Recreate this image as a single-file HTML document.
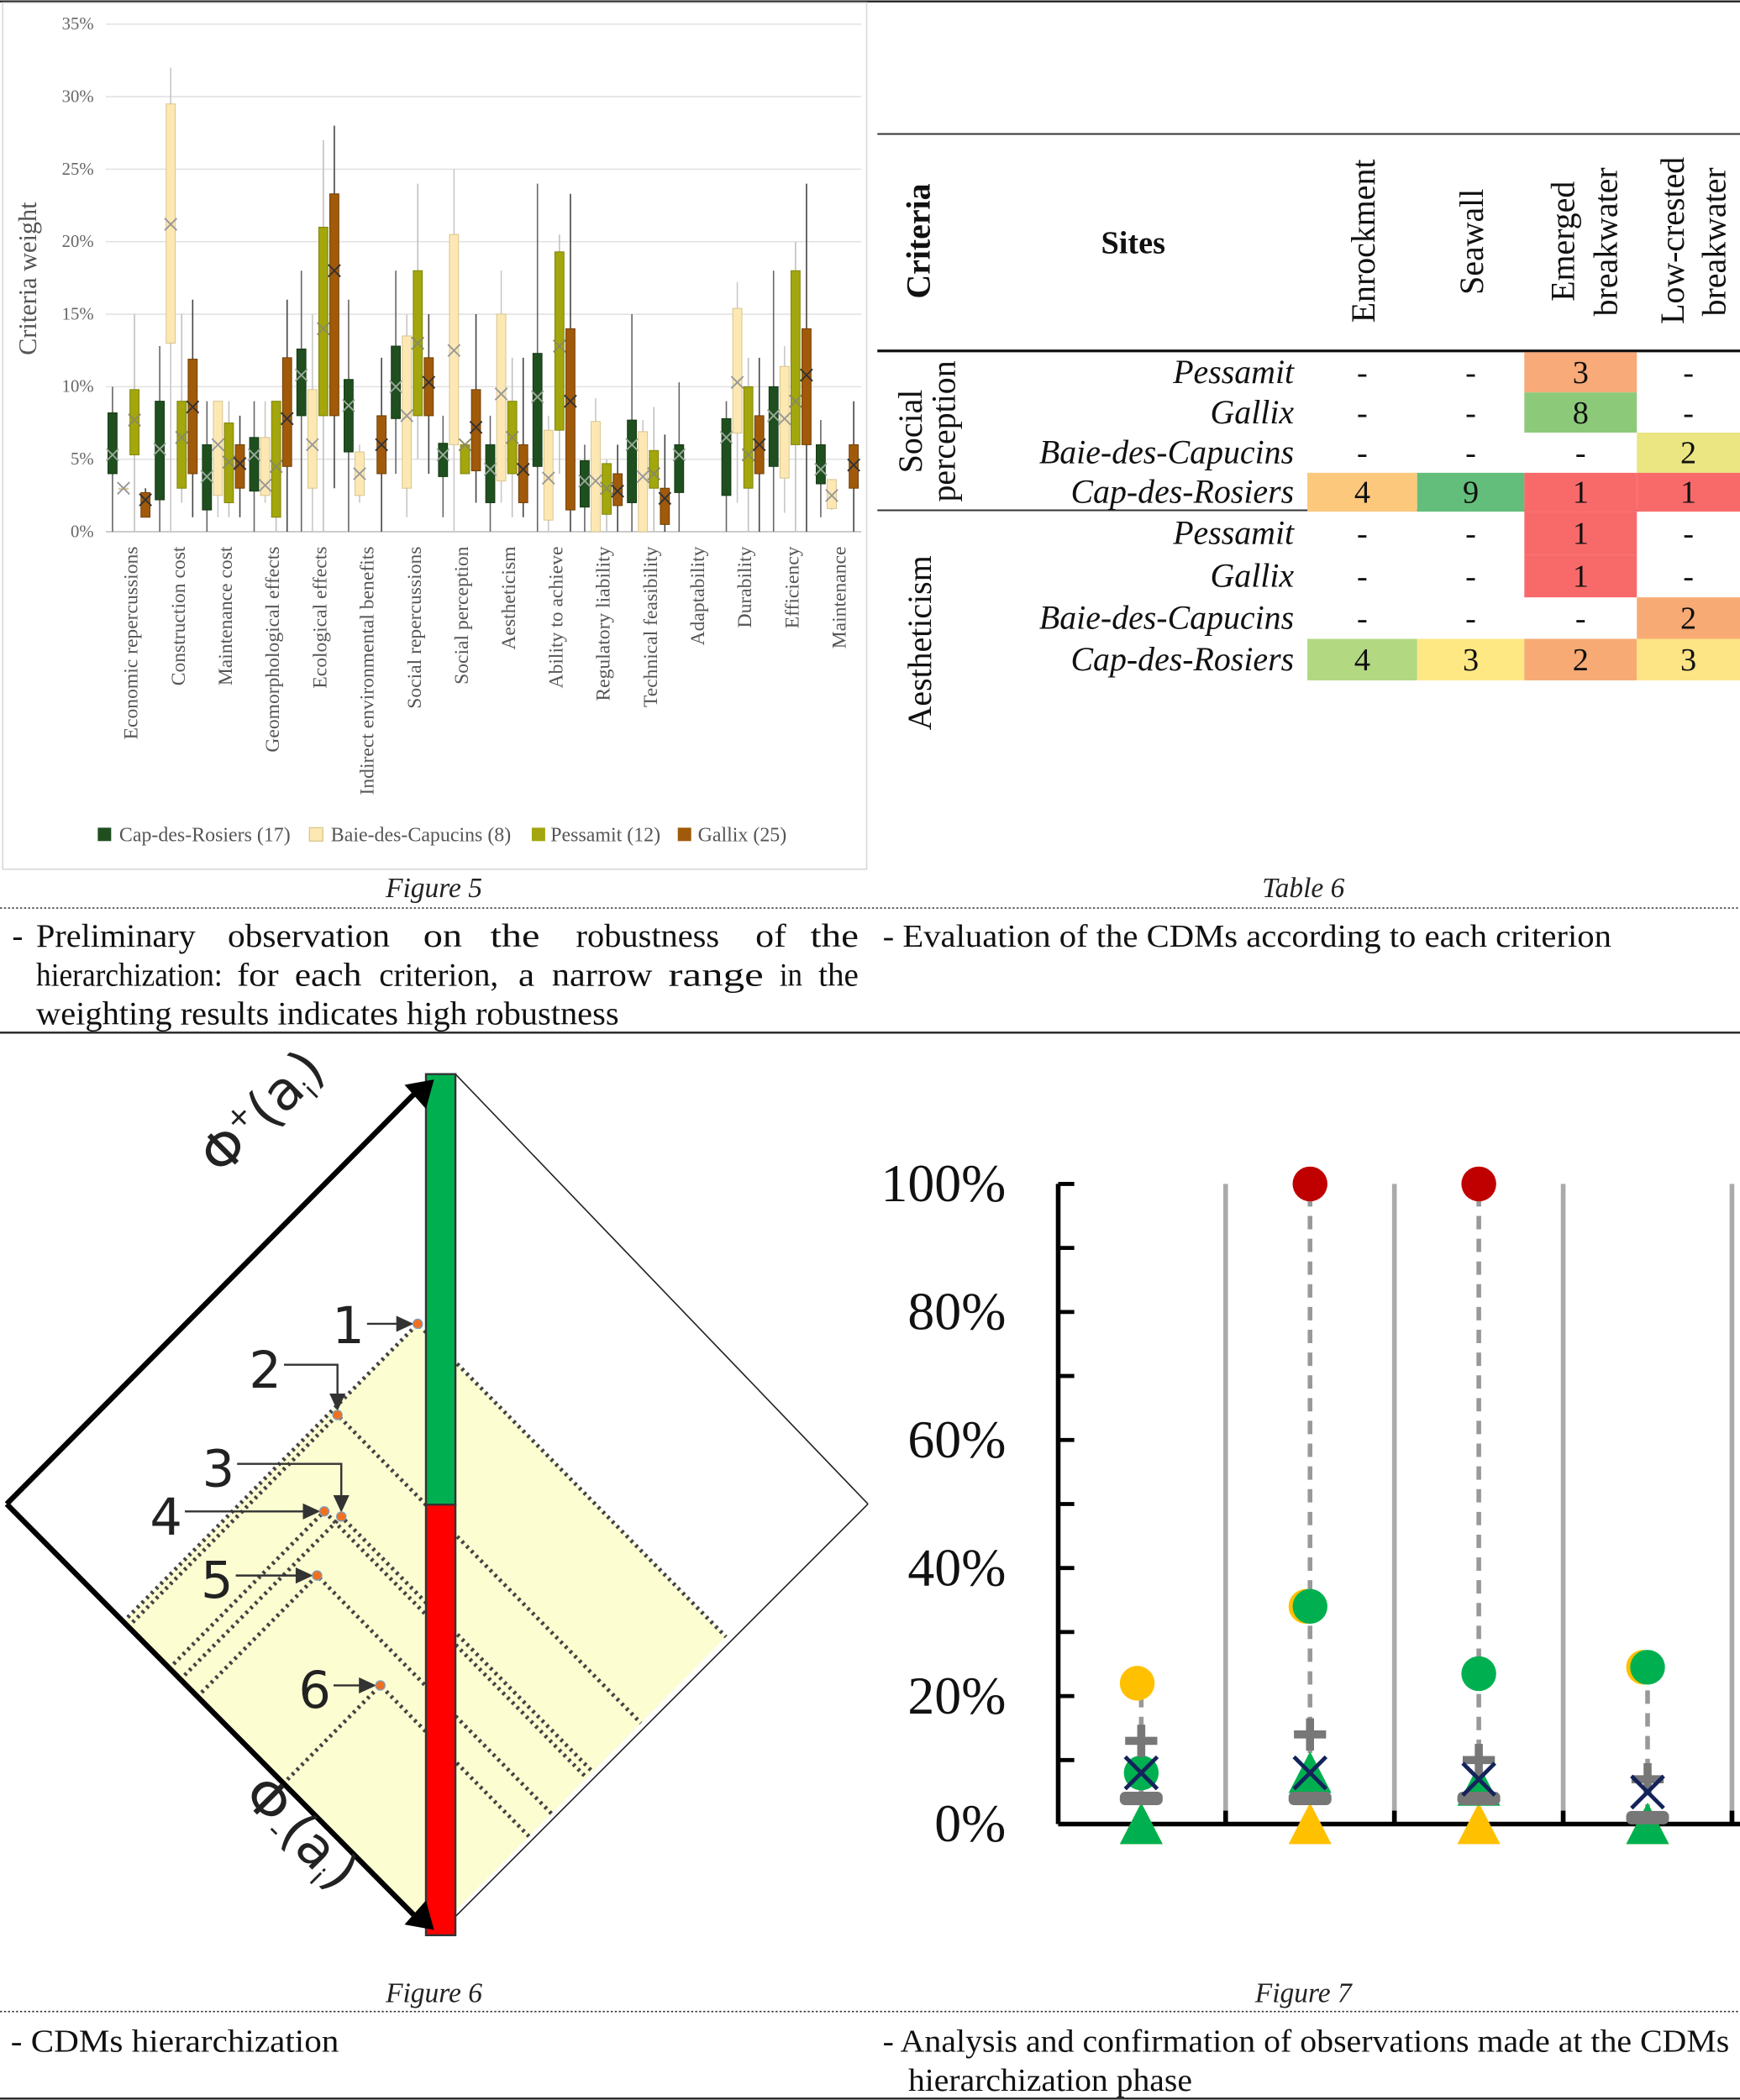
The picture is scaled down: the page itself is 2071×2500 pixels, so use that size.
<!DOCTYPE html>
<html><head><meta charset="utf-8">
<style>
html,body{margin:0;padding:0;background:#fff;}
svg{display:block;font-family:"Liberation Serif",serif;}
</style></head>
<body>
<svg id="page" width="2071" height="2500" viewBox="0 0 1299 1568" xmlns="http://www.w3.org/2000/svg">
<rect x="0" y="0" width="1299" height="1568" fill="#fff"/>
<line x1="0" y1="1" x2="1299" y2="1" stroke="#222" stroke-width="1.5"/>
<line x1="0" y1="678" x2="1299" y2="678" stroke="#333" stroke-width="1" stroke-dasharray="1.5,1.5"/>
<line x1="0" y1="771" x2="1299" y2="771" stroke="#222" stroke-width="1.5"/>
<line x1="0" y1="1502" x2="1299" y2="1502" stroke="#333" stroke-width="1" stroke-dasharray="1.5,1.5"/>
<line x1="0" y1="1567" x2="1299" y2="1567" stroke="#222" stroke-width="1.5"/>

<!-- Figure 5 -->
<g id="fig5">
  <rect x="2" y="2" width="645" height="647" fill="none" stroke="#d8d8d8" stroke-width="1"/>
  <text transform="translate(27,208) rotate(-90)" text-anchor="middle" font-size="19" fill="#555">Criteria weight</text>
  <g id="f5grid"></g><g id="f5boxes"></g><g id="f5labels"></g>
  <g font-size="15" fill="#555">
    <rect x="73" y="618" width="10" height="10" fill="#1f4f1f"/>
    <text x="89" y="628">Cap-des-Rosiers (17)</text>
    <rect x="231" y="618" width="10" height="10" fill="#fde8b4" stroke="#d8c58c" stroke-width="0.8"/>
    <text x="247" y="628">Baie-des-Capucins (8)</text>
    <rect x="397" y="618" width="10" height="10" fill="#a3a60c"/>
    <text x="411" y="628">Pessamit (12)</text>
    <rect x="506" y="618" width="10" height="10" fill="#a05a0a"/>
    <text x="521" y="628">Gallix (25)</text>
  </g>
</g>
<text x="324" y="670" text-anchor="middle" font-size="21" font-style="italic" fill="#222">Figure 5</text>
<g font-size="24.5" fill="#111" lengthAdjust="spacingAndGlyphs">
  <text x="9" y="707">-</text>
  <text x="27" y="707" textLength="119" lengthAdjust="spacingAndGlyphs">Preliminary</text>
  <text x="170" y="707" textLength="121" lengthAdjust="spacingAndGlyphs">observation</text>
  <text x="316" y="707" textLength="29" lengthAdjust="spacingAndGlyphs">on</text>
  <text x="366" y="707" textLength="37" lengthAdjust="spacingAndGlyphs">the</text>
  <text x="430" y="707" textLength="107" lengthAdjust="spacingAndGlyphs">robustness</text>
  <text x="564" y="707" textLength="23" lengthAdjust="spacingAndGlyphs">of</text>
  <text x="605" y="707" textLength="36" lengthAdjust="spacingAndGlyphs">the</text>
  <text x="27" y="736" textLength="139" lengthAdjust="spacingAndGlyphs">hierarchization:</text>
  <text x="177" y="736" textLength="31" lengthAdjust="spacingAndGlyphs">for</text>
  <text x="220" y="736" textLength="50" lengthAdjust="spacingAndGlyphs">each</text>
  <text x="283" y="736" textLength="89" lengthAdjust="spacingAndGlyphs">criterion,</text>
  <text x="387" y="736" textLength="12" lengthAdjust="spacingAndGlyphs">a</text>
  <text x="412" y="736" textLength="75" lengthAdjust="spacingAndGlyphs">narrow</text>
  <text x="499" y="736" textLength="71" lengthAdjust="spacingAndGlyphs">range</text>
  <text x="582" y="736" textLength="17" lengthAdjust="spacingAndGlyphs">in</text>
  <text x="611" y="736" textLength="30" lengthAdjust="spacingAndGlyphs">the</text>
  <text x="27" y="765" textLength="435" lengthAdjust="spacingAndGlyphs">weighting results indicates high robustness</text>
</g>

<!-- Table 6 -->
<g id="table6">
  <line x1="655" y1="100" x2="1299" y2="100" stroke="#333" stroke-width="1.2"/>
  <line x1="655" y1="262" x2="1299" y2="262" stroke="#111" stroke-width="2"/>
  <line x1="655" y1="381" x2="1299" y2="381" stroke="#333" stroke-width="1.2"/>
  <text transform="translate(694,180) rotate(-90)" text-anchor="middle" font-size="25" font-weight="bold" fill="#111">Criteria</text>
  <text x="846" y="189" text-anchor="middle" font-size="24" font-weight="bold" fill="#111">Sites</text>
  <g font-size="25" fill="#111">
    <text transform="translate(1026,241) rotate(-90)">Enrockment</text>
    <text transform="translate(1107,220) rotate(-90)">Seawall</text>
    <text transform="translate(1175,225) rotate(-90)">Emerged</text>
    <text transform="translate(1207,236) rotate(-90)">breakwater</text>
    <text transform="translate(1257,242) rotate(-90)">Low-crested</text>
    <text transform="translate(1288,236) rotate(-90)">breakwater</text>
  </g>
  <g id="tcells"></g>
  <text transform="translate(688,322) rotate(-90)" text-anchor="middle" font-size="25" fill="#111">Social</text>
  <text transform="translate(713,322) rotate(-90)" text-anchor="middle" font-size="25" fill="#111">perception</text>
  <text transform="translate(695,480) rotate(-90)" text-anchor="middle" font-size="25" fill="#111">Aestheticism</text>
</g>
<text x="973" y="670" text-anchor="middle" font-size="21" font-style="italic" fill="#222">Table 6</text>
<text x="659" y="707" font-size="24" fill="#111" textLength="544" lengthAdjust="spacingAndGlyphs">- Evaluation of the CDMs according to each criterion</text>

<!-- Figure 6 -->
<g id="fig6"></g>
<text x="324" y="1495" text-anchor="middle" font-size="21" font-style="italic" fill="#222">Figure 6</text>
<text x="8" y="1532" font-size="24" fill="#111" textLength="245" lengthAdjust="spacingAndGlyphs">- CDMs hierarchization</text>

<!-- Figure 7 -->
<g id="fig7"></g>
<text x="973" y="1495" text-anchor="middle" font-size="21" font-style="italic" fill="#222">Figure 7</text>
<text x="659" y="1532" font-size="24" fill="#111" textLength="632" lengthAdjust="spacingAndGlyphs">- Analysis and confirmation of observations made at the CDMs</text>
<text x="678" y="1561" font-size="24" fill="#111" textLength="212" lengthAdjust="spacingAndGlyphs">hierarchization phase</text>
</svg>

<script>
const NS="http://www.w3.org/2000/svg";
function mk(parent,tag,attrs,txt){const e=document.createElementNS(NS,tag);for(const k in attrs)e.setAttribute(k,attrs[k]);if(txt!==undefined)e.textContent=txt;parent.appendChild(e);return e;}

/* ---------- Figure 5 data ---------- */
const f5Categories=["Economic repercussions","Construction cost","Maintenance cost","Geomorphological effects","Ecological effects","Indirect environmental benefits","Social repercussions","Social perception","Aestheticism","Ability to achieve","Regulatory liability","Technical feasibility","Adaptability","Durability","Efficiency","Maintenance"];
const f5Ticks=[0,5,10,15,20,25,30,35];
// each entry: [min, q1, q3, max, mean] in %
const cdrStats=[[0,4,8.2,10,5.3],[0,2.2,9,12.8,5.7],[0,1.5,6,9,3.8],[0,2.8,6.5,9,5.3],[0,8,12.6,18,10.8],[0,5.5,10.5,16,8.7],[4,7.8,12.8,18,10],[1,3.8,6.1,8,5.3],[0,2,6,8,4.3],[0,4.5,12.3,24,9.3],[0,1.7,4.9,6,3.5],[0,2,7.7,15,6],[0,2.7,6,10.3,5.3],[0,2.5,7.8,9,6.5],[0,4.5,10,18,8],[1,3.3,6,7.7,4.3]];
const bdcStats=[[3,3,3,3,3],[0,13,29.5,32,21.2],[1,2.5,9,9,6],[2,2.5,6.5,9,3.2],[0,3,9.8,15,6],[2,2.5,5.5,6,4],[1,3,13.5,15,8],[0,6,20.5,25,12.5],[2,3.5,15,18,9.5],[0,0.8,7,8,3.7],[0,0,7.6,9.2,3.5],[0,0,6.9,7.7,3.8],null,[2,6.8,15.4,17.2,10.3],[1.3,3.7,11.4,12.8,7.8],[1.5,1.6,3.6,3.6,2.5]];
const pesStats=[[0,5.3,9.8,15,7.7],[2,3,9,15,6.5],[1,2,7.5,9,4.8],[0,1,9,9,4.5],[0,8,21,27,14],null,[5,8,18,24,13],[4,4,6,6,6],[1,4,9,12,6.5],[4,7,19.3,20.5,12.8],[0,1.2,4.7,5,3],[0,3,5.6,8.6,4],null,[0,3,10,12,5.3],[0,6,18,20,9],null];
const galStats=[[1,1,2.7,3,2.2],[1,4,11.9,16,8.6],[1,3,6,8,4.7],[0,4.5,12,16,7.8],[3,8,23.3,28,18],[0,4,8,12,6],[4,8,12,15,10.3],[2,4.2,9.8,15,7.2],[1,2,6,12,4.3],[0,1.5,14,23.3,9],[0,1.8,4,6,2.8],[0,0.5,3,6.7,2.3],null,[0,4,8,12,6],[0,6,14,24,10.8],[0,3,6,9,4.6]];

(function(){
  const x0=79,x1=643,y0=397,y35=18;
  const yS=v=>y0-(v/35)*(y0-y35);
  const cw=(x1-x0)/f5Categories.length;
  const grid=document.getElementById('f5grid');
  f5Ticks.forEach(t=>{
    const g=mk(grid,'line',{x1:x0,x2:x1,y1:yS(t),y2:yS(t),stroke:t===0?'#bbb':'#e2e2e2','stroke-width':1});
    
    
    const lb=mk(grid,'text',{x:70,y:yS(t)+4,'text-anchor':'end','font-size':13,fill:'#666'},t+'%');
    
    
  });
  const labels=document.getElementById('f5labels');
  f5Categories.forEach((c,i)=>{
    const cx=x0+cw*i+cw/2+1;
    const t=mk(labels,'text',{transform:`translate(${cx+5},408) rotate(-90)`,'text-anchor':'end','font-size':14.8,fill:'#555'},c);
    
    
  });
  const series=[
    {d:cdrStats,fill:'#1f4f1f',stroke:'#143814',wh:'#666',mean:'#9aa89a',name:'cap-des-rosiers'},
    {d:bdcStats,fill:'#fde8b4',stroke:'#d6c38a',wh:'#c8c8c8',mean:'#999',name:'baie-des-capucins'},
    {d:pesStats,fill:'#a3a60c',stroke:'#7f8208',wh:'#c0c0c0',mean:'#8a8a60',name:'pessamit'},
    {d:galStats,fill:'#a05a0a',stroke:'#6e3d06',wh:'#444',mean:'#333',name:'gallix'}];
  const bx=document.getElementById('f5boxes');
  series.forEach((s,j)=>{
    s.d.forEach((st,i)=>{
      if(!st)return;
      const cx=x0+cw*i+5+j*8.2;
      const [mn,q1,q3,mx,mean]=st;
      const g=mk(bx,'g',{});
      
      
      mk(g,'line',{x1:cx,x2:cx,y1:yS(mn),y2:yS(mx),stroke:s.wh,'stroke-width':1});
      mk(g,'rect',{x:cx-3.4,y:yS(q3),width:6.8,height:Math.max(0.8,yS(q1)-yS(q3)),fill:s.fill,stroke:s.stroke,'stroke-width':0.6});
      const m=yS(mean);
      mk(g,'path',{d:`M${cx-4.5},${m-4.5}L${cx+4.5},${m+4.5}M${cx-4.5},${m+4.5}L${cx+4.5},${m-4.5}`,stroke:s.mean,'stroke-width':1.2,fill:'none'});
    });
  });
})();

/* ---------- Table 6 ---------- */
const tSites=["Pessamit","Gallix","Baie-des-Capucins","Cap-des-Rosiers","Pessamit","Gallix","Baie-des-Capucins","Cap-des-Rosiers"];
const tValues=[["-","-","3","-"],["-","-","8","-"],["-","-","-","2"],["4","9","1","1"],["-","-","1","-"],["-","-","1","-"],["-","-","-","2"],["4","3","2","3"]];
const tColors=[[null,null,"#f8aa78",null],[null,null,"#8cca7a",null],[null,null,null,"#ebe582"],["#fcc87c","#63be7b","#f86a6a","#f86a6a"],[null,null,"#f86a6a",null],[null,null,"#f86a6a",null],[null,null,null,"#f8aa74"],["#b2d882","#fde884","#f8aa74","#fde484"]];
(function(){
  const g=document.getElementById('tcells');
  const colX=[976,1058,1138,1222,1299];
  const rowY=[263,293,323,353,382,414,446,477,508];
  tSites.forEach((s,r)=>{
    const yc=(rowY[r]+rowY[r+1])/2;
    const t=mk(g,'text',{x:966,y:yc+8,'text-anchor':'end','font-size':25,'font-style':'italic',fill:'#111'},s);
    
    
    tValues[r].forEach((v,c)=>{
      if(tColors[r][c]){
        const rc=mk(g,'rect',{x:colX[c],y:rowY[r],width:colX[c+1]-colX[c],height:rowY[r+1]-rowY[r],fill:tColors[r][c]});
        
        
      }
      const tv=mk(g,'text',{x:(colX[c]+colX[c+1])/2,y:yc+8,'text-anchor':'middle','font-size':24,fill:'#111'},v);
      
      
    });
  });
})();

/* ---------- Figure 6 data ---------- */
const f6Labels=["1","2","3","4","5","6"];
const phiPlus=[0.694,0.4935,0.380,0.366,0.283,0.23];
const phiMinus=[0.274,0.2855,0.408,0.382,0.448,0.65];
(function(){
  const g=document.getElementById('fig6');
  const L=[5,1123],T=[322,802],B=[322,1445],R=[648,1123];
  const u=[T[0]-L[0],T[1]-L[1]],v=[B[0]-L[0],B[1]-L[1]];
  const P=(a,b)=>[L[0]+a*u[0]+b*v[0],L[1]+a*u[1]+b*v[1]];
  const p1=P(phiPlus[0],phiMinus[0]);
  const fa=P(0,phiMinus[0]),fb=P(phiPlus[0],1);
  const poly=mk(g,'polygon',{points:`${fa} ${p1} ${fb} ${B}`,fill:'#fdfdd2'});
  
  
  mk(g,'line',{x1:T[0]+18,y1:T[1],x2:R[0],y2:R[1],stroke:'#222','stroke-width':1});
  mk(g,'line',{x1:R[0],y1:R[1],x2:B[0]+18,y2:B[1]-14,stroke:'#222','stroke-width':1});
  phiPlus.forEach((a,i)=>{
    const b=phiMinus[i];const p=P(a,b),q1=P(0,b),q2=P(a,1);
    const l=mk(g,'path',{d:`M${q1}L${p}L${q2}`,fill:'none',stroke:'#444','stroke-width':3,'stroke-dasharray':'2,3'});
    
    
  });
  const barTop=T[1],barBot=B[1],mid=(barTop+barBot)/2;
  const gb=mk(g,'rect',{x:318,y:barTop,width:22,height:mid-barTop,fill:'#00b050',stroke:'#333','stroke-width':1.5});
  
  
  const rb=mk(g,'rect',{x:318,y:mid,width:22,height:barBot-mid,fill:'#ff0000',stroke:'#333','stroke-width':1.5});
  
  
  mk(g,'line',{x1:L[0],y1:L[1],x2:T[0]-8,y2:T[1]+10,stroke:'#000','stroke-width':4});
  mk(g,'line',{x1:L[0],y1:L[1],x2:B[0]-8,y2:B[1]-10,stroke:'#000','stroke-width':4});
  mk(g,'polygon',{points:`${T[0]+2},${T[1]+4} ${T[0]-20},${T[1]+8} ${T[0]-4},${T[1]+26}`,fill:'#000'});
  mk(g,'polygon',{points:`${B[0]+2},${B[1]-4} ${B[0]-20},${B[1]-8} ${B[0]-4},${B[1]-26}`,fill:'#000'});
  const t1=mk(g,'text',{transform:'translate(205,840) rotate(-45)','text-anchor':'middle','font-family':'DejaVu Sans, sans-serif','font-size':40,fill:'#222'});
  
  
  t1.innerHTML='Φ<tspan font-size="22" dy="-16">+</tspan><tspan dy="16">(a</tspan><tspan font-size="20" dy="8">i</tspan><tspan dy="-8">)</tspan>';
  const t2=mk(g,'text',{transform:'translate(215,1378) rotate(45)','text-anchor':'middle','font-family':'DejaVu Sans, sans-serif','font-size':40,fill:'#222'});
  
  
  t2.innerHTML='Φ<tspan font-size="22" dy="6">-</tspan><tspan dy="-6">(a</tspan><tspan font-size="20" dy="8">i</tspan><tspan dy="-8">)</tspan>';
  const lab=[[260,1003,'h'],[198,1036,'d'],[163,1110,'d'],[124,1146,'h'],[162,1193,'h'],[235,1275,'h']];
  phiPlus.forEach((a,i)=>{
    const p=P(a,phiMinus[i]);
    const [lx,ly,kind]=lab[i];
    const tx=mk(g,'text',{x:lx,y:ly,'text-anchor':'middle','font-family':'DejaVu Sans, sans-serif','font-size':38,fill:'#222'},f6Labels[i]);
    
    
    if(kind==='h'){
      mk(g,'line',{x1:lx+14,y1:p[1],x2:p[0]-12,y2:p[1],stroke:'#333','stroke-width':1.5});
      mk(g,'polygon',{points:`${p[0]-3},${p[1]} ${p[0]-16},${p[1]-6} ${p[0]-16},${p[1]+6}`,fill:'#333'});
    }else{
      mk(g,'path',{d:`M${lx+14},${ly-17}L${p[0]},${ly-17}L${p[0]},${p[1]-12}`,stroke:'#333','stroke-width':1.5,fill:'none'});
      mk(g,'polygon',{points:`${p[0]},${p[1]-3} ${p[0]-6},${p[1]-16} ${p[0]+6},${p[1]-16}`,fill:'#333'});
    }
    const d=mk(g,'circle',{cx:p[0],cy:p[1],r:3.5,fill:'#f07020',stroke:'#7ca0c0','stroke-width':0.8});
    
    
  });
})();

/* ---------- Figure 7 data ---------- */
const f7Ticks=[0,20,40,60,80,100];
const circOrange=[22,34,null,24.5];
const circGreen=[8,34,23.5,24.5];
const circRed=[null,100,100,null];
const plusVals=[13,14,10,7];
const crossVals=[8,8,7,5];
const dashVals=[4,4,4,1];
const triGreen=[0,8,6,0];
const triOrange=[0,0,0,0];
const lineMin=[4,4,4,1];
const lineMax=[22,100,100,24.5];
(function(){
  const g=document.getElementById('fig7');
  const ax=790,y0=1362,y100=884,xEnd=1299;
  const yS=v=>y0-(v/100)*(y0-y100);
  const cx=i=>852+i*126;
  [0,1,2,3].forEach(i=>{
    const x=cx(i)+63;
    mk(g,'line',{x1:x,x2:x,y1:y100,y2:y0,stroke:'#aaa','stroke-width':3.5});
    mk(g,'line',{x1:x,x2:x,y1:y0-10,y2:y0,stroke:'#000','stroke-width':3.5});
  });
  const xa=mk(g,'line',{x1:ax,x2:xEnd,y1:y0,y2:y0,stroke:'#000','stroke-width':3.5});
  
  
  const ya=mk(g,'line',{x1:ax,x2:ax,y1:y100,y2:y0,stroke:'#000','stroke-width':3.5});
  
  
  for(let v=0;v<=100;v+=10){mk(g,'line',{x1:ax,x2:ax+12,y1:yS(v),y2:yS(v),stroke:'#000','stroke-width':3});}
  f7Ticks.forEach(t=>{
    const tl=mk(g,'text',{x:751,y:yS(t)+13,'text-anchor':'end','font-size':40,fill:'#111'},t+'%');
    
    
  });
  const tri=(x,y,col)=>mk(g,'polygon',{points:`${x},${y-16} ${x-16},${y+15} ${x+16},${y+15}`,fill:col});
  for(let i=0;i<circGreen.length;i++){
    const x=cx(i);
    const dl=mk(g,'line',{x1:x,x2:x,y1:yS(lineMin[i]),y2:yS(lineMax[i]),stroke:'#999','stroke-width':3.5,'stroke-dasharray':'10,7'});
    
    
    if(triOrange[i]!==null){const e=tri(x,yS(triOrange[i]),'#ffc000');}
    if(triGreen[i]!==null){const e=tri(x,yS(triGreen[i]),'#00b050');}
    if(circOrange[i]!==null){const e=mk(g,'circle',{cx:x-3,cy:yS(circOrange[i]),r:13,fill:'#ffc000'});}
    if(circGreen[i]!==null){const e=mk(g,'circle',{cx:x,cy:yS(circGreen[i]),r:13,fill:'#00b050'});}
    if(circRed[i]!==null){const e=mk(g,'circle',{cx:x,cy:yS(circRed[i]),r:13,fill:'#c00000'});}
    const dy=yS(dashVals[i]);
    const dd=mk(g,'rect',{x:x-16,y:dy-5,width:32,height:10,rx:4,fill:'#777'});
    
    
    const py=yS(plusVals[i]);
    const pl=mk(g,'path',{d:`M${x-12},${py}L${x+12},${py}M${x},${py-12}L${x},${py+12}`,stroke:'#777','stroke-width':6});
    
    
    const xy=yS(crossVals[i]);
    const cr=mk(g,'path',{d:`M${x-12},${xy-12}L${x+12},${xy+12}M${x-12},${xy+12}L${x+12},${xy-12}`,stroke:'#14235a','stroke-width':3});
    
    
  }
})();
</script>
</body></html>
